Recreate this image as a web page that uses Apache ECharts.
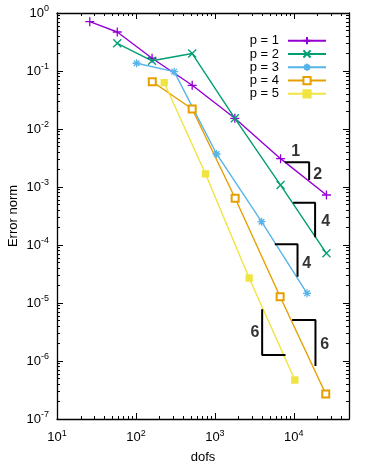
<!DOCTYPE html>
<html><head><meta charset="utf-8">
<script src="https://cdn.jsdelivr.net/npm/echarts@6/dist/echarts.min.js"></script>
<style>html,body{margin:0;padding:0;background:#fff}#c{width:374px;height:466px}</style>
</head><body><div id="c"></div>
<script>
const seriesNames = ['p = 1', 'p = 2', 'p = 3', 'p = 4', 'p = 5'];
const seriesColors = ['#9400D3', '#009E73', '#56B4E9', '#E69F00', '#F0E442'];

const p1Dofs = [26, 58, 160, 516, 1790, 6790, 25900];
const p1Err  = [0.708, 0.47, 0.166, 0.0567, 0.0153, 0.00308, 0.000728];
const p2Dofs = [58, 160, 516, 1790, 6790, 25900];
const p2Err  = [0.30, 0.15, 0.20, 0.0153, 0.00108, 7.2e-5];
const p3Dofs = [102, 305, 1052, 3900, 14700];
const p3Err  = [0.136, 0.0973, 0.00371, 2.52e-4, 1.47e-5];
const p4Dofs = [161, 516, 1807, 6710, 25400];
const p4Err  = [0.0654, 0.0221, 6.38e-4, 1.28e-5, 2.7e-7];
const p5Dofs = [228, 762, 2717, 10300];
const p5Err  = [0.0629, 1.68e-3, 2.7e-5, 4.7e-7];

const tri1 = [[7690, 2.67e-3], [15630, 2.67e-3], [15630, 1.32e-3]];
const tri2 = [[9800, 5.36e-4], [18600, 5.36e-4], [18600, 1.36e-4]];
const tri3 = [[5740, 1.03e-4], [11140, 1.03e-4], [11140, 2.84e-5]];
const tri4 = [[3970, 7.78e-6], [3970, 1.27e-6], [7850, 1.27e-6]];
const tri5 = [[9510, 5.09e-6], [18800, 5.09e-6], [18800, 8.2e-7]];
const slopeLabels = [[10600, 4.0e-3, '1'], [20100, 1.61e-3, '2'], [25400, 2.49e-4, '4'],
                     [14600, 4.7e-5, '4'], [3210, 3.04e-6, '6'], [24700, 1.89e-6, '6']];

const xMajorTicks = [10, 100, 1000, 10000];
const yMajorTicks = [1e-7, 1e-6, 1e-5, 1e-4, 1e-3, 1e-2, 1e-1, 1];
const xMin = 10, xMax = 50000, yMin = 1e-7, yMax = 1;

function minorTicks(majors, lo, hi) {
  const out = [];
  majors.forEach(m => { for (let k = 2; k <= 9; k++) { const v = m * k; if (v > lo && v < hi) out.push(v); } });
  return out;
}
const xMinorTicks = minorTicks([10, 100, 1000, 10000], xMin, xMax);
const yMinorTicks = minorTicks([1e-7, 1e-6, 1e-5, 1e-4, 1e-3, 1e-2, 1e-1], yMin, yMax);

const FONT = 'Liberation Sans';
const pow10Fmt = v => '{a|10}{b|' + Math.round(Math.log10(v)) + '}';
const richSup = {
  a: { fontSize: 13, fontFamily: FONT, color: '#000' },
  b: { fontSize: 9, fontFamily: FONT, color: '#000', padding: [0, 0, 8, 0] }
};
const axisLine = { show: true, lineStyle: { color: '#000', width: 1.3 } };

function mkX(pos, minor, showLabels) {
  return {
    type: 'log', min: xMin, max: xMax, position: pos, gridIndex: 0,
    axisLine: minor ? { show: false } : axisLine,
    axisTick: { show: true, inside: true, length: minor ? 3 : 6, lineStyle: { color: '#000', width: 1 },
                customValues: minor ? xMinorTicks : xMajorTicks },
    axisLabel: showLabels ? { show: true, customValues: xMajorTicks, formatter: pow10Fmt, rich: richSup, margin: 10 } : { show: false },
    splitLine: { show: false }, minorTick: { show: false },
    name: showLabels ? 'dofs' : '', nameLocation: 'middle', nameGap: 32, nameMoveOverlap: false,
    nameTextStyle: { fontSize: 13, fontFamily: FONT, color: '#000' }
  };
}
function mkY(pos, minor, showLabels) {
  return {
    type: 'log', min: yMin, max: yMax, position: pos, gridIndex: 0,
    axisLine: minor ? { show: false } : axisLine,
    axisTick: { show: true, inside: true, length: minor ? 3 : 6, lineStyle: { color: '#000', width: 1 },
                customValues: minor ? yMinorTicks : yMajorTicks },
    axisLabel: showLabels ? { show: true, customValues: yMajorTicks, formatter: pow10Fmt, rich: richSup, margin: 8 } : { show: false },
    splitLine: { show: false }, minorTick: { show: false },
    name: showLabels ? 'Error norm' : '', nameLocation: 'middle', nameGap: 37, nameRotate: 90, nameMoveOverlap: false,
    nameTextStyle: { fontSize: 13, fontFamily: FONT, color: '#000' }
  };
}

const symbols = [
  'path://M0,5L10,5M5,0L5,10',
  'path://M0,0L10,10M10,0L0,10',
  'path://M0,5L10,5M5,0L5,10M1.5,1.5L8.5,8.5M8.5,1.5L1.5,8.5',
  'emptyRect',
  'rect'
];
const symbolSizes = [9, 8, 8, 7, 6];
const dofsList = [p1Dofs, p2Dofs, p3Dofs, p4Dofs, p5Dofs];
const errList = [p1Err, p2Err, p3Err, p4Err, p5Err];

const series = seriesNames.map((n, i) => ({
  name: n, type: 'line', xAxisIndex: 0, yAxisIndex: 0,
  data: dofsList[i].map((d, j) => [d, errList[i][j]]),
  color: seriesColors[i],
  symbol: symbols[i], symbolSize: symbolSizes[i], showAllSymbol: true,
  lineStyle: { color: seriesColors[i], width: 1.4 },
  itemStyle: { color: seriesColors[i], borderColor: seriesColors[i], borderWidth: 1.3 },
  emphasis: { disabled: true }, animation: false
}));

[tri1, tri2, tri3, tri4, tri5].forEach((t, i) => {
  series.push({
    name: 'tri' + i, type: 'line', xAxisIndex: 0, yAxisIndex: 0, data: t,
    symbol: 'none', lineStyle: { color: '#000', width: 2 }, silent: true, animation: false, z: 5
  });
});
series.push({
  name: 'slopes', type: 'scatter', xAxisIndex: 0, yAxisIndex: 0,
  data: slopeLabels, symbolSize: 1, itemStyle: { color: 'rgba(0,0,0,0)' }, silent: true, animation: false,
  label: { show: true, position: 'inside', formatter: p => p.value[2],
           fontSize: 16, fontWeight: 'bold', fontFamily: FONT, color: '#000' }
});

const chart = echarts.init(document.getElementById('c'), null, { renderer: 'canvas' });
chart.setOption({
  backgroundColor: '#fff',
  animation: false,
  grid: { left: 57, right: 25, top: 13, bottom: 47, containLabel: false, outerBoundsMode: 'none' },
  xAxis: [mkX('bottom', false, true), mkX('bottom', true, false), mkX('top', false, false), mkX('top', true, false)],
  yAxis: [mkY('left', false, true), mkY('left', true, false), mkY('right', false, false), mkY('right', true, false)],
  legend: {
    data: seriesNames, orient: 'vertical', right: 47, top: 34, align: 'right', padding: 0,
    itemWidth: 38, itemHeight: 9, itemGap: 0,
    textStyle: { fontSize: 13, lineHeight: 13.3, fontFamily: FONT, color: '#000', padding: [0, 4, 0, 0] },
    selectedMode: false
  },
  series: series
});
</script></body></html>
